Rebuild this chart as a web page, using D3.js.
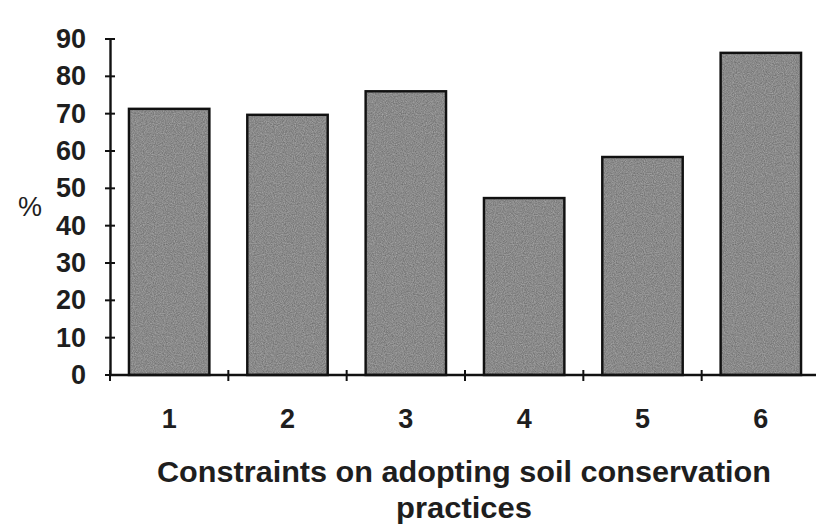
<!DOCTYPE html>
<html>
<head>
<meta charset="utf-8">
<script src="https://cdn.jsdelivr.net/npm/d3@7"></script>
<style>
    body { margin: 0; background: #fff; }
    svg text { font-family: "Liberation Sans", Arial, sans-serif; font-weight: bold; fill: #1e1e1e; }
</style>
</head>
<body>
<div id="chart"></div>
<script>
const categories = ["1", "2", "3", "4", "5", "6"];
const values = [71.3, 69.7, 76, 47.4, 58.4, 86.3];
const yTicks = [0, 10, 20, 30, 40, 50, 60, 70, 80, 90];
const xTitle = ["Constraints on adopting soil conservation", "practices"];
const yTitle = "%";

const width = 816;
const height = 527;
const margin = { top: 39, right: -4, bottom: 152, left: 110 };

const svg = d3.select("#chart")
    .append("svg")
    .attr("width", width)
    .attr("height", height);

// textura gris de las barras
const defs = svg.append("defs");
const filt = defs.append("filter").attr("id", "grain").attr("x", 0).attr("y", 0).attr("width", 1).attr("height", 1);
filt.append("feTurbulence").attr("type", "fractalNoise").attr("baseFrequency", 0.9).attr("numOctaves", 2).attr("seed", 3).attr("result", "n");
filt.append("feColorMatrix").attr("in", "n").attr("type", "matrix")
    .attr("values", "0 0 0 0 0.4  0 0 0 0 0.4  0 0 0 0 0.4  0 0 0 -1.1 1.05")
    .attr("result", "g");
filt.append("feComposite").attr("in", "g").attr("in2", "SourceGraphic").attr("operator", "in");

const x = d3.scaleBand()
    .domain(categories)
    .range([margin.left, width - margin.right])
    .paddingInner(0.32)
    .paddingOuter(0.16);

const y = d3.scaleLinear()
    .domain([0, 90])
    .range([height - margin.bottom, margin.top]);

const g = svg.append("g");

// barras
g.selectAll(".bar")
    .data(values)
    .enter()
    .append("rect")
    .attr("class", "bar")
    .attr("x", (d, i) => x(categories[i]))
    .attr("y", d => y(d))
    .attr("width", x.bandwidth())
    .attr("height", d => y(0) - y(d))
    .attr("fill", "#6a6a6a")
    .attr("stroke", "#111")
    .attr("stroke-width", 2.4);

g.selectAll(".barGrain")
    .data(values)
    .enter()
    .append("rect")
    .attr("x", (d, i) => x(categories[i]) + 1.5)
    .attr("y", d => y(d) + 1.5)
    .attr("width", x.bandwidth() - 3)
    .attr("height", d => y(0) - y(d) - 3)
    .attr("fill", "#6a6a6a")
    .attr("filter", "url(#grain)");

// eje Y
const yAxis = svg.append("g")
    .attr("transform", `translate(${margin.left},0)`)
    .call(d3.axisLeft(y).tickValues(yTicks).tickSize(0).tickPadding(24));
yAxis.select(".domain").attr("stroke", "#111").attr("stroke-width", 2.4);
yAxis.selectAll("text").style("font-size", "27px").attr("fill", "#1e1e1e");

yAxis.selectAll(".tickmark")
    .data(yTicks)
    .enter()
    .append("line")
    .attr("x1", -5).attr("x2", 5)
    .attr("y1", d => y(d)).attr("y2", d => y(d))
    .attr("stroke", "#111").attr("stroke-width", 2);

// eje X
const boundaries = d3.range(categories.length + 1).map(i => x.range()[0] + i * x.step());
svg.append("line")
    .attr("x1", margin.left).attr("x2", width)
    .attr("y1", y(0)).attr("y2", y(0))
    .attr("stroke", "#111").attr("stroke-width", 2.4);
svg.selectAll(".xtick")
    .data(boundaries)
    .enter()
    .append("line")
    .attr("x1", d => d).attr("x2", d => d)
    .attr("y1", y(0) - 5).attr("y2", y(0) + 6)
    .attr("stroke", "#111").attr("stroke-width", 2);

svg.selectAll(".xlabel")
    .data(categories)
    .enter()
    .append("text")
    .attr("x", d => x(d) + x.bandwidth() / 2)
    .attr("y", y(0) + 53)
    .attr("text-anchor", "middle")
    .style("font-size", "27px")
    .text(d => d);

// títulos
svg.append("text")
    .attr("x", 30)
    .attr("y", y(45) + 9)
    .attr("text-anchor", "middle")
    .style("font-size", "27px")
    .style("font-weight", "normal")
    .text(yTitle);

svg.append("text")
    .attr("x", 464)
    .attr("y", 482)
    .attr("text-anchor", "middle")
    .attr("textLength", 614)
    .attr("lengthAdjust", "spacingAndGlyphs")
    .style("font-size", "29px")
    .text(xTitle[0]);

svg.append("text")
    .attr("x", 464)
    .attr("y", 518)
    .attr("text-anchor", "middle")
    .attr("textLength", 136)
    .attr("lengthAdjust", "spacingAndGlyphs")
    .style("font-size", "29px")
    .text(xTitle[1]);
</script>
</body>
</html>
